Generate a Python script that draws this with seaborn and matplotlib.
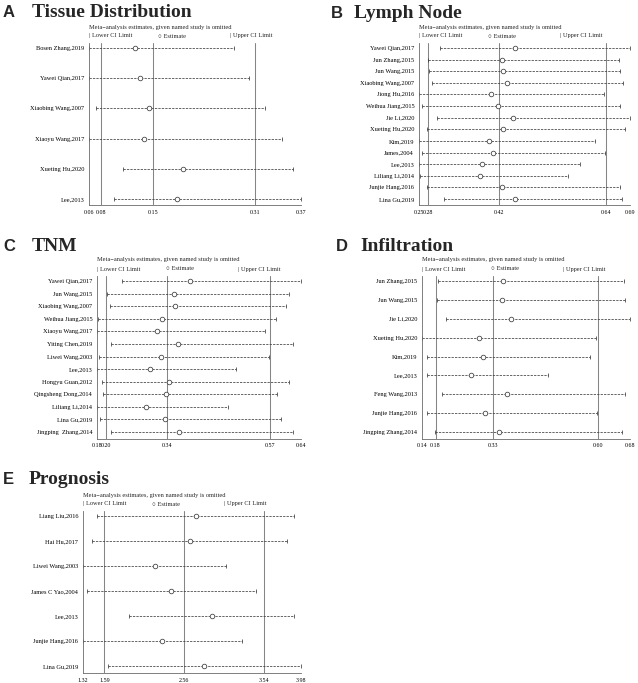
import numpy as np
import pandas as pd
import seaborn as sns
import matplotlib.pyplot as plt

# leave-one-out sensitivity analysis, 5 panels
# each panel: study omitted, estimate, lower / upper CI, overall (lower, est, upper)

# A - tissue distribution
studies_a = ["Bosen Zhang,2019", "Yawei Qian,2017", "Xiaobing Wang,2007",
             "Xiaoyu Wang,2017", "Xueting Hu,2020", "Lee,2013"]
est_a = [0.129, 0.135, 0.149, 0.141, 0.198, 0.190]
lower_a = [0.0615, 0.062, 0.071, 0.0615, 0.111, 0.098]
upper_a = [0.273, 0.294, 0.317, 0.342, 0.359, 0.370]
overall_a = [0.079, 0.154, 0.303]
ticks_a = ["0.06", "0.08", "0.15", "0.31", "0.37"]

# B - lymph node
studies_b = ["Yawei Qian,2017", "Jun Zhang,2015", "Jun Wang,2015", "Xiaobing Wang,2007",
             "Jiong Hu,2016", "Weihua Jiang,2015", "Jie Li,2020", "Xueting Hu,2020",
             "Kim,2019", "James,2004", "Lee,2013", "Liliang Li,2014",
             "Junjie Hang,2016", "Lina Gu,2019"]
est_b = [0.457, 0.429, 0.432, 0.440, 0.408, 0.421, 0.452, 0.431, 0.403, 0.411,
         0.389, 0.385, 0.430, 0.457]
lower_b = [0.305, 0.279, 0.281, 0.288, 0.262, 0.267, 0.298, 0.277, 0.262, 0.267,
           0.2617, 0.263, 0.277, 0.313]
upper_b = [0.689, 0.667, 0.668, 0.675, 0.637, 0.668, 0.689, 0.679, 0.619, 0.638,
           0.587, 0.563, 0.668, 0.672]
overall_b = [0.280, 0.424, 0.640]
ticks_b = ["0.25", "0.28", "0.42", "0.64", "0.69"]

# C - TNM
studies_c = ["Yawei Qian,2017", "Jun Wang,2015", "Xiaobing Wang,2007", "Weihua Jiang,2015",
             "Xiaoyu Wang,2017", "Yiting Chen,2019", "Liwei Wang,2003", "Lee,2013",
             "Hongyu Guan,2012", "Qingsheng Dong,2014", "Liliang Li,2014", "Lina Gu,2019",
             "Jingping  Zhang,2014"]
est_c = [0.390, 0.354, 0.357, 0.327, 0.316, 0.363, 0.325, 0.300, 0.343, 0.337,
         0.291, 0.334, 0.365]
lower_c = [0.2375, 0.204, 0.2105, 0.182, 0.181, 0.211, 0.185, 0.1805, 0.191, 0.193,
           0.1805, 0.1865, 0.211]
upper_c = [0.640, 0.613, 0.607, 0.583, 0.560, 0.623, 0.568, 0.494, 0.613, 0.587,
           0.476, 0.594, 0.623]
overall_c = [0.200, 0.338, 0.570]
ticks_c = ["0.18", "0.20", "0.34", "0.57", "0.64"]

# D - infiltration
studies_d = ["Jun Zhang,2015", "Jun Wang,2015", "Jie Li,2020", "Xueting Hu,2020",
             "Kim,2019", "Lee,2013", "Feng Wang,2013", "Junjie Hang,2016",
             "Jingping Zhang,2014"]
est_d = [0.354, 0.352, 0.376, 0.292, 0.302, 0.273, 0.365, 0.309, 0.345]
lower_d = [0.187, 0.185, 0.206, 0.145, 0.158, 0.158, 0.197, 0.159, 0.179]
upper_d = [0.669, 0.671, 0.684, 0.595, 0.580, 0.471, 0.671, 0.598, 0.664]
overall_d = [0.180, 0.328, 0.600]
ticks_d = ["0.14", "0.18", "0.33", "0.60", "0.68"]

# E - prognosis
studies_e = ["Liang Liu,2016", "Hai Hu,2017", "Liwei Wang,2003", "James C Yao,2004",
             "Lee,2013", "Junjie Hang,2016", "Lina Gu,2019"]
est_e = [2.707, 2.634, 2.203, 2.406, 2.898, 2.293, 2.808]
lower_e = [1.497, 1.440, 1.330, 1.375, 1.890, 1.330, 1.639]
upper_e = [3.905, 3.820, 3.068, 3.442, 3.905, 3.272, 3.986]
overall_e = [1.590, 2.561, 3.540]
ticks_e = ["1.32", "1.59", "2.56", "3.54", "3.98"]

sns.set_theme(style="white")
plt.rcParams["font.family"] = ["Liberation Serif", "DejaVu Serif"]

W, H = 638, 683
fig = plt.figure(figsize=(W / 100, H / 100), dpi=100)

# pixel layout: (left, top, right, bottom) of axes, first/last row y, title letter x, title x, baseline y
panels = [
    ("A", "Tissue Distribution", studies_a, est_a, lower_a, upper_a, overall_a, ticks_a,
     (89, 43, 301, 205), (48, 199), (3, 32, 17)),
    ("B", "Lymph Node", studies_b, est_b, lower_b, upper_b, overall_b, ticks_b,
     (419, 43, 630, 205), (48, 199), (331, 354, 18)),
    ("C", "TNM", studies_c, est_c, lower_c, upper_c, overall_c, ticks_c,
     (97, 276, 301, 438.5), (281, 432), (3, 32, 251)),
    ("D", "Infiltration", studies_d, est_d, lower_d, upper_d, overall_d, ticks_d,
     (422, 276, 630, 438.5), (281, 432), (336, 360, 251)),
    ("E", "Prognosis", studies_e, est_e, lower_e, upper_e, overall_e, ticks_e,
     (83, 511, 301, 673), (516, 666), (3, 29, 484)),
]

line_col = "#3c3c3c"
ref_col = "#858585"

for letter, title, studies, est, lo, hi, overall, tick_labels, box, rows, tpos in panels:
    left, top, right, bottom = box
    ax = fig.add_axes([left / W, 1 - bottom / H, (right - left) / W, (bottom - top) / H])

    df = pd.DataFrame({"study": studies, "est": est, "lower": lo, "upper": hi})
    df["row"] = np.arange(len(df))
    n = len(df)

    # reference lines for the overall estimate and its CI
    for v in overall:
        ax.axvline(v, color=ref_col, lw=0.75, zorder=1)

    ax.hlines(df["row"], df["lower"], df["upper"], color=line_col, lw=0.55,
              linestyles=(0, (3, 1.5)), zorder=2)
    ax.plot(df["lower"], df["row"], "|", color=line_col, ms=3.2, mew=0.55, zorder=2)
    ax.plot(df["upper"], df["row"], "|", color=line_col, ms=3.2, mew=0.55, zorder=2)
    sns.scatterplot(data=df, x="est", y="row", ax=ax, marker="o", s=11,
                    color=line_col, edgecolor=line_col, linewidth=0.55, zorder=3)
    ax.collections[-1].set_facecolor("white")

    xmin, xmax = df["lower"].min(), df["upper"].max()
    ax.set_xlim(xmin, xmax)
    ppr = (rows[1] - rows[0]) / (n - 1)
    ax.set_ylim(n - 1 + (bottom - rows[1]) / ppr, -(rows[0] - top) / ppr)

    ax.set_xticks([xmin] + list(overall) + [xmax])
    ax.set_xticklabels(tick_labels, fontsize=4.3)
    ax.set_yticks(df["row"])
    ax.set_yticklabels(df["study"], fontsize=4.6)
    ax.set_xlabel("")
    ax.set_ylabel("")
    ax.tick_params(axis="x", length=2, width=0.5, pad=1.5, colors="#555555", labelcolor="black")
    ax.tick_params(axis="y", length=1.5, width=0.4, pad=2, colors="#555555", labelcolor="black")

    for s in ["top", "right"]:
        ax.spines[s].set_visible(False)
    for s in ["left", "bottom"]:
        ax.spines[s].set_color("#6a6a6a")
        ax.spines[s].set_linewidth(0.6)

    # legend block above plot area
    ax.annotate("Meta\u2212analysis estimates, given named study is omitted", xy=(0, 1),
                xycoords="axes fraction", xytext=(0, 16), textcoords="offset pixels",
                fontsize=4.6, va="center", ha="left")
    for dx, txt in [(0, "| Lower CI Limit"), (69, "\u25cb Estimate"), (141, "| Upper CI Limit")]:
        ax.annotate(txt, xy=(0, 1), xycoords="axes fraction", xytext=(dx, 7),
                    textcoords="offset pixels", fontsize=4.6, va="center", ha="left")

    lx, tx, by = tpos
    fig.text(lx / W, 1 - by / H, letter, fontsize=12, fontweight="bold",
             family="Liberation Sans", va="baseline", ha="left")
    fig.text(tx / W, 1 - by / H, title, fontsize=14, fontweight="bold",
             family="Liberation Serif", va="baseline", ha="left")

fig.savefig("out.png", dpi=100)
